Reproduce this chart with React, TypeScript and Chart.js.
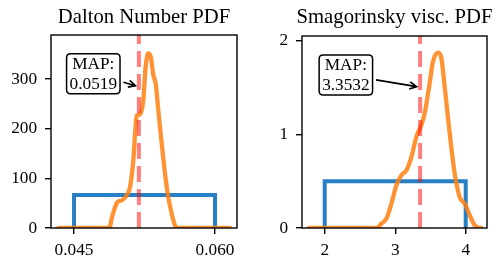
import React, { useEffect, useRef } from 'react';
import { Chart, registerables } from 'chart.js';

Chart.register(...registerables);

// ---------- Dalton Number panel ----------
const daltonTitle = 'Dalton Number PDF';
const daltonPosteriorX = [0.04333, 0.04876, 0.04901, 0.04936, 0.04961, 0.05011, 0.05061, 0.05096, 0.05131, 0.05149, 0.05167, 0.05202, 0.05237, 0.05262, 0.0529, 0.05316, 0.05344, 0.05369, 0.05397, 0.05433, 0.05468, 0.05503, 0.05539, 0.05574, 0.05609, 0.0616];
const daltonPosteriorY = [0, 0, 19, 42, 52, 56, 66, 83, 137, 190, 227, 229, 257, 325, 352, 345, 308, 291, 237, 170, 110, 62, 29, 5, 0, 0];
const daltonPriorX = [0.045, 0.045, 0.06, 0.06];
const daltonPriorY = [0, 66.7, 66.7, 0];
const daltonMAP = 0.0519;
const daltonMAPText = ['MAP:', '0.0519'];
const daltonArrowTargetY = 285;
const daltonLabelX = 0.04705;
const daltonLabelY = 311;
const daltonXTicks = [0.045, 0.06];
const daltonYTicks = [0, 100, 200, 300];
const daltonXRange = [0.04255, 0.06234];
const daltonYRange = [0, 389];

// ---------- Smagorinsky panel ----------
const smagTitle = 'Smagorinsky visc. PDF';
const smagPosteriorX = [1.777, 2.733, 2.804, 2.875, 2.946, 3.017, 3.088, 3.159, 3.23, 3.3, 3.371, 3.418, 3.489, 3.536, 3.607, 3.655, 3.702, 3.773, 3.844, 3.915, 3.986, 4.057, 4.128, 4.199, 4.22];
const smagPosteriorY = [0, 0, 0.047, 0.1, 0.26, 0.457, 0.565, 0.618, 0.761, 0.975, 1.1, 1.226, 1.548, 1.78, 1.876, 1.815, 1.51, 1.01, 0.58, 0.33, 0.26, 0.136, 0.03, 0, 0];
const smagPriorX = [2, 2, 4, 4];
const smagPriorY = [0, 0.5, 0.5, 0];
const smagMAP = 3.3532;
const smagMAPText = ['MAP:', '3.3532'];
const smagArrowTargetY = 1.506;
const smagLabelX = 2.3;
const smagLabelY = 1.637;
const smagXTicks = [2, 3, 4];
const smagYTicks = [0, 1, 2];
const smagXRange = [1.678, 4.302];
const smagYRange = [0, 2.053];

const FONT = "'Liberation Serif', 'Times New Roman', serif";
const BLUE = 'rgb(40,128,196)';
const ORANGE = 'rgba(255,127,14,0.85)';
const RED = 'rgba(255,0,0,0.5)';

const decorPlugin = {
  id: 'decor',
  afterDraw(chart: any, _args: any, opts: any) {
    const ctx = chart.ctx;
    const area = chart.chartArea;
    const xs = chart.scales.x;
    const ys = chart.scales.y;
    ctx.save();
    // frame
    ctx.strokeStyle = '#000';
    ctx.lineWidth = 1.4;
    ctx.strokeRect(area.left, area.top, area.right - area.left, area.bottom - area.top);
    // title
    ctx.fillStyle = '#000';
    ctx.font = `20.7px ${FONT}`;
    ctx.textAlign = 'center';
    ctx.textBaseline = 'alphabetic';
    ctx.fillText(opts.title, (area.left + area.right) / 2, 23);

    // annotation box
    const cx = xs.getPixelForValue(opts.labelX);
    const cy = ys.getPixelForValue(opts.labelY);
    ctx.font = `17.25px ${FONT}`;
    const lines: string[] = opts.text;
    const tw = Math.max(...lines.map((l) => ctx.measureText(l).width));
    const bw = tw + 6;
    const bh = 40;
    const bx = cx - bw / 2;
    const by = cy - bh / 2;
    const r = 4;
    ctx.beginPath();
    ctx.moveTo(bx + r, by);
    ctx.lineTo(bx + bw - r, by);
    ctx.quadraticCurveTo(bx + bw, by, bx + bw, by + r);
    ctx.lineTo(bx + bw, by + bh - r);
    ctx.quadraticCurveTo(bx + bw, by + bh, bx + bw - r, by + bh);
    ctx.lineTo(bx + r, by + bh);
    ctx.quadraticCurveTo(bx, by + bh, bx, by + bh - r);
    ctx.lineTo(bx, by + r);
    ctx.quadraticCurveTo(bx, by, bx + r, by);
    ctx.closePath();
    ctx.fillStyle = '#fff';
    ctx.fill();
    ctx.lineWidth = 1.5;
    ctx.strokeStyle = '#000';
    ctx.stroke();
    ctx.fillStyle = '#000';
    ctx.textAlign = 'center';
    ctx.fillText(lines[0], cx, cy - 5);
    ctx.fillText(lines[1], cx, cy + 15);

    // arrow
    const tx = xs.getPixelForValue(opts.map);
    const ty = ys.getPixelForValue(opts.arrowY);
    const dx = tx - cx;
    const dy = ty - cy;
    const len = Math.hypot(dx, dy);
    const ux = dx / len;
    const uy = dy / len;
    const tEdge = (bw / 2) / Math.abs(ux);
    const sx = cx + ux * (tEdge + 3.5);
    const sy = cy + uy * (tEdge + 3.5);
    const ex = tx - ux * 3.5;
    const ey = ty - uy * 3.5;
    ctx.lineWidth = 1.6;
    ctx.beginPath();
    ctx.moveTo(sx, sy);
    ctx.lineTo(ex, ey);
    const hl = 7;
    const hw = 3.5;
    ctx.moveTo(ex - ux * hl - uy * hw, ey - uy * hl + ux * hw);
    ctx.lineTo(ex, ey);
    ctx.lineTo(ex - ux * hl + uy * hw, ey - uy * hl - ux * hw);
    ctx.stroke();
    ctx.restore();
  },
};

function pts(xs: number[], ys: number[]) {
  return xs.map((x, i) => ({ x, y: ys[i] }));
}

interface PanelProps {
  title: string;
  postX: number[];
  postY: number[];
  priorX: number[];
  priorY: number[];
  map: number;
  mapText: string[];
  arrowY: number;
  labelX: number;
  labelY: number;
  xTicks: number[];
  yTicks: number[];
  xRange: number[];
  yRange: number[];
  xFmt: (v: number) => string;
  areaLeft: number;
  areaTop: number;
  areaRight: number;
  areaBottom: number;
}

function Panel(p: PanelProps) {
  const ref = useRef<HTMLCanvasElement>(null);
  useEffect(() => {
    if (!ref.current) return;
    const tickFont = { family: FONT, size: 17.25 };
    const grid = { display: true, drawOnChartArea: false, drawTicks: true, tickLength: 6, color: '#000', lineWidth: 1.4 };
    const chart = new Chart(ref.current, {
      type: 'line',
      data: {
        datasets: [
          {
            data: pts([p.map, p.map], [p.yRange[0], p.yRange[1]]),
            borderColor: RED,
            borderWidth: 4,
            borderDash: [16, 7],
            pointRadius: 0,
            order: 1,
            clip: 0,
          },
          {
            data: pts(p.postX, p.postY),
            borderColor: ORANGE,
            borderWidth: 4.3,
            pointRadius: 0,
            cubicInterpolationMode: 'monotone',
            borderCapStyle: 'round',
            borderJoinStyle: 'round',
            order: 2,
            clip: 0,
          },
          {
            data: pts(p.priorX, p.priorY),
            borderColor: BLUE,
            borderWidth: 4,
            pointRadius: 0,
            tension: 0,
            borderJoinStyle: 'miter',
            order: 3,
            clip: 0,
          },
        ],
      } as any,
      options: {
        animation: false,
        responsive: false,
        devicePixelRatio: 1,
        events: [],
        layout: { padding: { left: 0, top: p.areaTop, right: 250 - p.areaRight, bottom: 0 } },
        plugins: {
          legend: { display: false },
          tooltip: { enabled: false },
          decor: {
            title: p.title,
            text: p.mapText,
            map: p.map,
            arrowY: p.arrowY,
            labelX: p.labelX,
            labelY: p.labelY,
          },
        } as any,
        scales: {
          x: {
            type: 'linear',
            min: p.xRange[0],
            max: p.xRange[1],
            grid,
            border: { display: false },
            ticks: { font: tickFont, color: '#000', padding: 6, maxRotation: 0, callback: (v: any) => p.xFmt(Number(v)) },
            afterBuildTicks: (s: any) => {
              s.ticks = p.xTicks.map((v) => ({ value: v }));
            },
            afterFit: (s: any) => {
              s.height = 266 - p.areaBottom;
            },
          },
          y: {
            type: 'linear',
            min: p.yRange[0],
            max: p.yRange[1],
            grid,
            border: { display: false },
            ticks: { font: tickFont, color: '#000', padding: 8, callback: (v: any) => String(v) },
            afterBuildTicks: (s: any) => {
              s.ticks = p.yTicks.map((v) => ({ value: v }));
            },
            afterFit: (s: any) => {
              s.width = p.areaLeft;
            },
          },
        },
      } as any,
      plugins: [decorPlugin],
    });
    return () => chart.destroy();
  }, []);
  return <canvas ref={ref} width={250} height={266} style={{ width: 250, height: 266, display: 'block' }} />;
}

export default function App() {
  return (
    <div style={{ position: 'fixed', left: 0, top: 0, width: 500, height: 266, background: '#fff', display: 'flex' }}>
      <Panel
        title={daltonTitle}
        postX={daltonPosteriorX}
        postY={daltonPosteriorY}
        priorX={daltonPriorX}
        priorY={daltonPriorY}
        map={daltonMAP}
        mapText={daltonMAPText}
        arrowY={daltonArrowTargetY}
        labelX={daltonLabelX}
        labelY={daltonLabelY}
        xTicks={daltonXTicks}
        yTicks={daltonYTicks}
        xRange={daltonXRange}
        yRange={daltonYRange}
        xFmt={(v) => v.toFixed(3)}
        areaLeft={51}
        areaTop={35}
        areaRight={237}
        areaBottom={228}
      />
      <Panel
        title={smagTitle}
        postX={smagPosteriorX}
        postY={smagPosteriorY}
        priorX={smagPriorX}
        priorY={smagPriorY}
        map={smagMAP}
        mapText={smagMAPText}
        arrowY={smagArrowTargetY}
        labelX={smagLabelX}
        labelY={smagLabelY}
        xTicks={smagXTicks}
        yTicks={smagYTicks}
        xRange={smagXRange}
        yRange={smagYRange}
        xFmt={(v) => String(v)}
        areaLeft={52}
        areaTop={36}
        areaRight={237}
        areaBottom={228}
      />
    </div>
  );
}
